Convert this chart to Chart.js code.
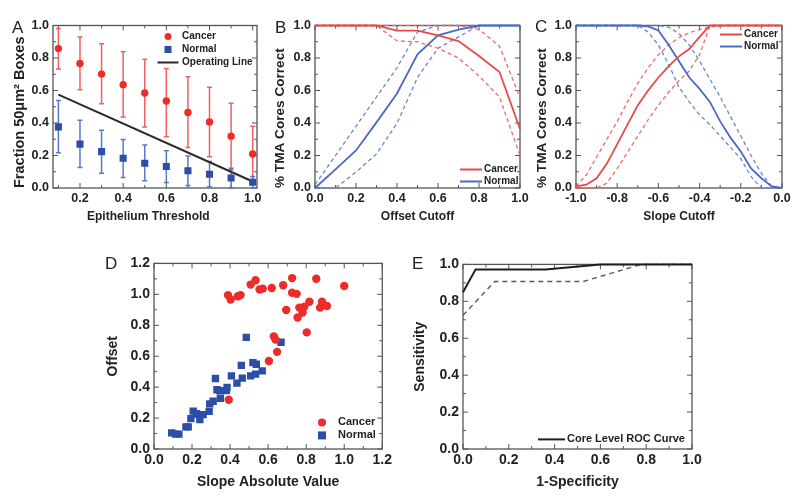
<!DOCTYPE html>
<html>
<head>
<meta charset="utf-8">
<script src="https://cdn.jsdelivr.net/npm/chart.js@4.4.0/dist/chart.umd.min.js"></script>
<style>
  body { margin: 0; background: #fff; }
  #fig { position: relative; width: 800px; height: 502px; overflow: hidden; }
  #fig canvas { position: absolute; }
  .tag { position: absolute; font: 17px/1 "Liberation Sans", Arial, sans-serif; color: #222; }
</style>
</head>
<body>
<div id="fig">
  <canvas id="chartA"></canvas>
  <canvas id="chartB"></canvas>
  <canvas id="chartC"></canvas>
  <canvas id="chartD"></canvas>
  <canvas id="chartE"></canvas>
  <div class="tag" style="left:12px;top:19px">A</div>
  <div class="tag" style="left:275px;top:19px">B</div>
  <div class="tag" style="left:535px;top:18px">C</div>
  <div class="tag" style="left:105px;top:255px">D</div>
  <div class="tag" style="left:412px;top:255px">E</div>
</div>
<script>
// ---- panel A: fraction of boxes vs epithelium threshold
const thresholds = [0.1, 0.2, 0.3, 0.4, 0.5, 0.6, 0.7, 0.8, 0.9, 1.0];
const cancerMean = [0.858, 0.766, 0.701, 0.636, 0.585, 0.535, 0.465, 0.406, 0.319, 0.209];
const cancerLow  = [0.732, 0.604, 0.518, 0.437, 0.376, 0.315, 0.250, 0.193, 0.112, 0.051];
const cancerHigh = [0.982, 0.929, 0.888, 0.839, 0.793, 0.736, 0.685, 0.620, 0.522, 0.380];
const normalMean = [0.376, 0.270, 0.224, 0.183, 0.152, 0.132, 0.106, 0.085, 0.061, 0.035];
const normalLow  = [0.217, 0.126, 0.091, 0.065, 0.045, 0.034, 0.016, 0.007, 0.0, 0.0];
const normalHigh = [0.539, 0.417, 0.356, 0.299, 0.264, 0.230, 0.197, 0.163, 0.122, 0.071];
const opLineX = [0.1, 1.0];
const opLineY = [0.575, 0.04];
const aXTicks = [0.2, 0.4, 0.6, 0.8, 1.0];

// ---- panel B: % cores correct vs offset cutoff
const offsetX   = [0, 0.1, 0.2, 0.3, 0.4, 0.5, 0.6, 0.7, 0.8, 0.9, 1.0];
const bCancer   = [1, 1, 1, 1, 0.969, 0.969, 0.939, 0.904, 0.812, 0.714, 0.363];
const bCancerHi = [1, 1, 1, 1, 1, 1, 1, 1, 0.975, 0.873, 0.557];
const bCancerLo = [1, 1, 1, 1, 0.905, 0.90, 0.86, 0.80, 0.69, 0.56, 0.20];
const bNormal   = [0, 0.115, 0.231, 0.404, 0.582, 0.822, 0.939, 0.975, 1, 1, 1];
const bNormalHi = [0.02, 0.2, 0.38, 0.56, 0.74, 0.96, 1, 1, 1, 1, 1];
const bNormalLo = [0, 0, 0.098, 0.21, 0.398, 0.68, 0.86, 0.93, 1, 1, 1];

// ---- panel C: % cores correct vs slope cutoff
const slopeX    = [-1.0, -0.95, -0.9, -0.85, -0.8, -0.75, -0.7, -0.65, -0.6, -0.55, -0.5,
                   -0.45, -0.4, -0.35, -0.3, -0.25, -0.2, -0.15, -0.1, -0.05, 0];
const cCancer   = [0.01, 0.02, 0.06, 0.15, 0.27, 0.39, 0.51, 0.60, 0.68, 0.75, 0.81,
                   0.855, 0.93, 1, 1, 1, 1, 1, 1, 1, 1];
const cCancerHi = [0.01, 0.08, 0.19, 0.30, 0.41, 0.53, 0.645, 0.74, 0.82, 0.88, 0.925,
                   0.955, 0.975, 0.99, 1, 1, 1, 1, 1, 1, 1];
const cCancerLo = [0, 0, 0, 0.03, 0.12, 0.22, 0.32, 0.42, 0.51, 0.59, 0.66,
                   0.72, 0.82, 1, 1, 1, 1, 1, 1, 1, 1];
const cNormal   = [1, 1, 1, 1, 1, 1, 1, 0.995, 0.97, 0.88, 0.78,
                   0.68, 0.61, 0.53, 0.41, 0.31, 0.225, 0.12, 0.06, 0.01, 0];
const cNormalLo = [1, 1, 1, 1, 1, 1, 1, 0.96, 0.88, 0.76, 0.62,
                   0.53, 0.45, 0.39, 0.32, 0.25, 0.18, 0.07, 0, 0, 0];
const cNormalHi = [1, 1, 1, 1, 1, 1, 1, 1, 1, 0.99, 0.95,
                   0.88, 0.78, 0.67, 0.56, 0.44, 0.32, 0.20, 0.09, 0.01, 0];
const cXTicks = [-1.0, -0.8, -0.6, -0.4, -0.2, 0.0];

// ---- panel D: offset vs slope absolute value per core
const dCancerSlope  = [0.389, 0.403, 0.441, 0.455, 0.508, 0.534, 0.555, 0.572, 0.619, 0.679,
                       0.726, 0.726, 0.75, 0.853, 1.0, 0.695, 0.764, 0.781, 0.79, 0.817,
                       0.755, 0.803, 0.873, 0.883, 0.909, 0.63, 0.639, 0.647, 0.604, 0.393];
const dCancerOffset = [0.995, 0.967, 0.988, 0.995, 1.063, 1.091, 1.031, 1.037, 1.041, 1.059,
                       1.105, 1.01, 1.003, 1.101, 1.054, 0.899, 0.914, 0.882, 0.92, 0.952,
                       0.85, 0.754, 0.914, 0.952, 0.925, 0.728, 0.707, 0.628, 0.569, 0.318];
const dNormalSlope  = [0.093, 0.113, 0.131, 0.168, 0.18, 0.194, 0.206, 0.223, 0.237, 0.241,
                       0.258, 0.29, 0.293, 0.311, 0.323, 0.331, 0.346, 0.349, 0.38, 0.384,
                       0.407, 0.436, 0.459, 0.464, 0.485, 0.508, 0.52, 0.538, 0.534, 0.569, 0.668];
const dNormalOffset = [0.104, 0.096, 0.096, 0.143, 0.143, 0.196, 0.245, 0.228, 0.222, 0.19,
                       0.222, 0.243, 0.292, 0.309, 0.456, 0.383, 0.377, 0.328, 0.377, 0.398,
                       0.473, 0.426, 0.541, 0.458, 0.722, 0.473, 0.558, 0.548, 0.484, 0.505, 0.69];
const dTicks = [0, 0.2, 0.4, 0.6, 0.8, 1.0, 1.2];

// ---- panel E: ROC curve
const rocX     = [0, 0.055, 0.36, 0.6, 1.0];
const rocY     = [0.849, 0.973, 0.973, 1.0, 1.0];
const rocDashX = [0, 0.138, 0.524, 0.778, 1.0];
const rocDashY = [0.724, 0.907, 0.907, 1.0, 1.0];

const unitTicks = [0, 0.2, 0.4, 0.6, 0.8, 1.0];

const FONT = '"Liberation Sans", Arial, sans-serif';
const INK = '#222';
const RED = '#ec2c28', BLUE = '#2c4ea6';
const RED_LINE = '#e84848', BLUE_LINE = '#4a6ac0';
const RED_DASH = '#ef6a6a', BLUE_DASH = '#6a86cc';

const pts = (xs, ys) => xs.map((x, i) => ({ x, y: ys[i] }));

// frame with inward ticks on all four sides (major + half-step minor)
const framePlugin = {
  id: 'frame',
  beforeDatasetsDraw(chart) {
    const { ctx, chartArea: a, scales } = chart;
    ctx.save();
    ctx.strokeStyle = '#555';
    ctx.lineWidth = 1.3;
    ctx.strokeRect(a.left, a.top, a.right - a.left, a.bottom - a.top);
    ctx.lineWidth = 1;
    [scales.x, scales.y].forEach(s => {
      const vals = s.ticks.map(t => t.value);
      const half = (vals[1] - vals[0]) / 2;
      let v = vals[0];
      while (v - half >= s.min - 1e-9) v -= half;
      for (; v <= s.max + 1e-9; v += half) {
        const major = vals.some(t => Math.abs(t - v) < 1e-6);
        const len = major ? 5 : 3;
        const p = s.getPixelForValue(v);
        ctx.beginPath();
        if (s.isHorizontal()) {
          ctx.moveTo(p, a.bottom); ctx.lineTo(p, a.bottom - len);
          ctx.moveTo(p, a.top); ctx.lineTo(p, a.top + len);
        } else {
          ctx.moveTo(a.left, p); ctx.lineTo(a.left + len, p);
          ctx.moveTo(a.right, p); ctx.lineTo(a.right - len, p);
        }
        ctx.stroke();
      }
    });
    ctx.restore();
  }
};

const errorBarPlugin = {
  id: 'errorBars',
  beforeDatasetsDraw(chart) {
    const { ctx, scales: { x, y } } = chart;
    chart.data.datasets.forEach(ds => {
      if (!ds.errLow) return;
      ctx.save();
      ctx.strokeStyle = ds.errColor;
      ctx.lineWidth = 1.5;
      ds.data.forEach((p, i) => {
        const px = x.getPixelForValue(p.x);
        const lo = y.getPixelForValue(ds.errLow[i]);
        const hi = y.getPixelForValue(ds.errHigh[i]);
        ctx.beginPath();
        ctx.moveTo(px, lo); ctx.lineTo(px, hi);
        ctx.moveTo(px - 2.5, lo); ctx.lineTo(px + 2.5, lo);
        ctx.moveTo(px - 2.5, hi); ctx.lineTo(px + 2.5, hi);
        ctx.stroke();
      });
      ctx.restore();
    });
  }
};

// legend drawn inside the plot box, one row per dataset that has legendKind
const insideLegendPlugin = {
  id: 'insideLegend',
  afterDatasetsDraw(chart, args, o) {
    const { ctx, chartArea: a } = chart;
    const items = chart.data.datasets.filter(ds => ds.legendKind);
    ctx.save();
    ctx.font = o.font;
    ctx.textBaseline = 'middle';
    items.forEach((ds, i) => {
      const cx = a.left + o.dx, cy = a.top + o.dy + i * o.row;
      const col = ds.legendColor;
      ctx.fillStyle = col;
      ctx.strokeStyle = col;
      if (ds.legendKind === 'circle') {
        ctx.beginPath(); ctx.arc(cx, cy, o.size, 0, 2 * Math.PI); ctx.fill();
      } else if (ds.legendKind === 'square') {
        ctx.fillRect(cx - o.size, cy - o.size, 2 * o.size, 2 * o.size);
      } else {
        ctx.lineWidth = 2;
        ctx.beginPath(); ctx.moveTo(cx - o.lineHalf, cy); ctx.lineTo(cx + o.lineHalf, cy); ctx.stroke();
      }
      ctx.fillStyle = INK;
      ctx.fillText(ds.label, cx + o.textGap, cy);
    });
    ctx.restore();
  }
};

function axis(min, max, ticks, title, o) {
  return {
    type: 'linear', min, max,
    afterBuildTicks: s => { s.ticks = ticks.map(v => ({ value: v })); },
    afterFit: s => { if (s.isHorizontal()) s.height = o.size; else s.width = o.size; },
    grid: { display: false, drawTicks: false },
    border: { display: false },
    ticks: {
      padding: o.pad, autoSkip: false, maxRotation: 0, color: INK,
      font: { family: FONT, size: o.tickSize, weight: 'bold' },
      callback: v => v.toFixed(1)
    },
    title: {
      display: true, text: title, align: o.align || 'center', padding: 0, color: INK,
      font: { family: FONT, size: o.titleSize, weight: 'bold' }
    }
  };
}

function makeChart(id, g, datasets, x, y, legend) {
  const c = document.getElementById(id);
  c.width = g.w; c.height = g.h;
  c.style.left = g.left + 'px';
  c.style.top = g.top + 'px';
  return new Chart(c, {
    type: 'scatter',
    data: { datasets },
    options: {
      responsive: false, animation: false, devicePixelRatio: 1,
      layout: { padding: { top: g.padTop, right: g.padRight, left: 0, bottom: 0 } },
      scales: { x, y },
      plugins: { legend: { display: false }, tooltip: { enabled: false }, insideLegend: legend }
    },
    plugins: [framePlugin, errorBarPlugin, insideLegendPlugin]
  });
}

function lineSet(label, xs, ys, color, width, dash, legendKind) {
  return {
    label, data: pts(xs, ys), showLine: true, pointRadius: 0,
    borderColor: color, borderWidth: width, borderDash: dash || [],
    clip: false, legendKind, legendColor: color
  };
}

window.onload = () => {
  // A
  makeChart('chartA', { left: 11, top: 14, w: 258, h: 210, padTop: 10, padRight: 12 }, [
    { label: 'Cancer', data: pts(thresholds, cancerMean), errLow: cancerLow, errHigh: cancerHigh,
      errColor: '#f06060', pointStyle: 'circle', pointRadius: 3.7, backgroundColor: RED,
      borderWidth: 0, legendKind: 'circle', legendColor: RED },
    { label: 'Normal', data: pts(thresholds, normalMean), errLow: normalLow, errHigh: normalHigh,
      errColor: '#5a7ac6', pointStyle: 'rect', pointRadius: 5, backgroundColor: BLUE,
      borderWidth: 0, legendKind: 'square', legendColor: BLUE },
    lineSet('Operating Line', opLineX, opLineY, '#2a2a2a', 2, null, 'line')
  ],
    axis(0.075, 1.02, aXTicks, 'Epithelium Threshold    ', { size: 36, pad: 3, tickSize: 12.5, titleSize: 12 }),
    axis(0, 1, unitTicks, 'Fraction 50μm² Boxes', { size: 42, pad: 4, tickSize: 12.5, titleSize: 14.5, align: 'start' }),
    { dx: 115, dy: 11, row: 13, textGap: 14, lineHalf: 10.5, size: 3.5, font: 'bold 10px ' + FONT }
  );

  // B
  makeChart('chartB', { left: 272, top: 14, w: 260, h: 210, padTop: 10, padRight: 12 }, [
    lineSet('Cancer', offsetX, bCancer, RED_LINE, 1.8, null, 'line'),
    lineSet('Normal', offsetX, bNormal, BLUE_LINE, 1.8, null, 'line'),
    lineSet('Cancer upper', offsetX, bCancerHi, RED_DASH, 1.3, [4, 3]),
    lineSet('Cancer lower', offsetX, bCancerLo, RED_DASH, 1.3, [4, 3]),
    lineSet('Normal upper', offsetX, bNormalHi, BLUE_DASH, 1.3, [4, 3]),
    lineSet('Normal lower', offsetX, bNormalLo, BLUE_DASH, 1.3, [4, 3])
  ],
    axis(0, 1, unitTicks, 'Offset Cutoff', { size: 36, pad: 3, tickSize: 12.5, titleSize: 12 }),
    axis(0, 1, unitTicks, '% TMA Cores Correct', { size: 43, pad: 4, tickSize: 12.5, titleSize: 13.6, align: 'start' }),
    { dx: 156, dy: 144, row: 12, textGap: 13, lineHalf: 11, size: 3.5, font: 'bold 10px ' + FONT }
  );

  // C
  makeChart('chartC', { left: 534, top: 14, w: 262, h: 210, padTop: 10, padRight: 14 }, [
    lineSet('Cancer', slopeX, cCancer, RED_LINE, 1.8, null, 'line'),
    lineSet('Normal', slopeX, cNormal, BLUE_LINE, 1.8, null, 'line'),
    lineSet('Cancer upper', slopeX, cCancerHi, RED_DASH, 1.3, [4, 3]),
    lineSet('Cancer lower', slopeX, cCancerLo, RED_DASH, 1.3, [4, 3]),
    lineSet('Normal upper', slopeX, cNormalHi, BLUE_DASH, 1.3, [4, 3]),
    lineSet('Normal lower', slopeX, cNormalLo, BLUE_DASH, 1.3, [4, 3])
  ],
    axis(-1, 0, cXTicks, 'Slope Cutoff', { size: 36, pad: 3, tickSize: 12.5, titleSize: 12 }),
    axis(0, 1, unitTicks, '% TMA Cores Correct', { size: 42, pad: 4, tickSize: 12.5, titleSize: 13.6, align: 'start' }),
    { dx: 155, dy: 9, row: 12, textGap: 13, lineHalf: 11, size: 3.5, font: 'bold 10px ' + FONT }
  );

  // D
  makeChart('chartD', { left: 105, top: 251, w: 290, h: 240, padTop: 10, padRight: 12 }, [
    { label: 'Cancer', data: pts(dCancerSlope, dCancerOffset), pointStyle: 'circle', pointRadius: 4.2,
      backgroundColor: RED, borderWidth: 0, legendKind: 'circle', legendColor: RED },
    { label: 'Normal', data: pts(dNormalSlope, dNormalOffset), pointStyle: 'rect', pointRadius: 5.2,
      backgroundColor: BLUE, borderWidth: 0, legendKind: 'square', legendColor: BLUE }
  ],
    axis(0, 1.2, dTicks, 'Slope Absolute Value', { size: 42, pad: 3, tickSize: 14, titleSize: 14 }),
    axis(0, 1.2, dTicks, 'Offset', { size: 49, pad: 4, tickSize: 14, titleSize: 14 }),
    { dx: 168, dy: 159, row: 13, textGap: 16, lineHalf: 11, size: 4, font: 'bold 11px ' + FONT }
  );

  // E
  makeChart('chartE', { left: 412, top: 252, w: 294, h: 239, padTop: 10, padRight: 14 }, [
    lineSet('Core Level ROC Curve', rocX, rocY, '#1e1e1e', 2, null, 'line'),
    lineSet('ROC (dashed)', rocDashX, rocDashY, '#5a5a5a', 1.4, [5, 4])
  ],
    axis(0, 1, unitTicks, '1-Specificity', { size: 42, pad: 3, tickSize: 14, titleSize: 14 }),
    axis(0, 1, unitTicks, 'Sensitivity', { size: 51, pad: 4, tickSize: 14, titleSize: 14 }),
    { dx: 88.5, dy: 175, row: 13, textGap: 15.5, lineHalf: 13.5, size: 4, font: 'bold 11px ' + FONT }
  );
};
</script>
</body>
</html>
